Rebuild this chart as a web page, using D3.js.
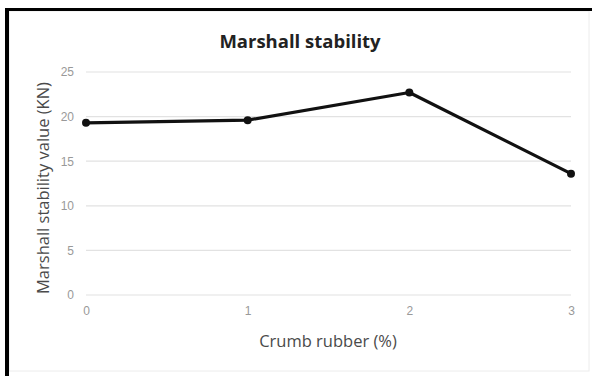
<!DOCTYPE html>
<html>
<head>
<meta charset="utf-8">
<script src="https://cdn.jsdelivr.net/npm/d3@7"></script>
<style>
  body { margin: 0; background: #fff; }
  svg { display: block; font-family: "Open Sans", "Noto Sans", sans-serif; }
</style>
</head>
<body>
<div id="chart"></div>
<script>
var rubber = [0, 1, 2, 3];
var stability = [19.3, 19.6, 22.7, 13.6];
var yTicks = [0, 5, 10, 15, 20, 25];

var width = 592;
var height = 376;

var svg = d3.select('#chart')
            .append('svg')
            .attr('width', width)
            .attr('height', height);

// frame of the screenshot
svg.append('rect').attr('x', 9).attr('y', 11).attr('width', 580).attr('height', 360)
   .attr('fill', '#fff').attr('stroke', '#ececec');
svg.append('rect').attr('x', 5).attr('y', 8).attr('width', 4).attr('height', 368).attr('fill', '#000');
svg.append('rect').attr('x', 5).attr('y', 8).attr('width', 587).attr('height', 3).attr('fill', '#000');

var x = d3.scaleLinear().domain([0, 3]).range([86, 571]);
var y = d3.scaleLinear().domain([0, 25]).range([295, 72]);

// gridlines
svg.selectAll('.grid')
   .data(yTicks)
   .enter()
   .append('line')
   .attr('x1', x(0))
   .attr('x2', x(3))
   .attr('y1', function(d){ return y(d) })
   .attr('y2', function(d){ return y(d) })
   .attr('stroke', '#e2e2e2')
   .attr('stroke-width', 1.2);

var yAxis = d3.axisLeft(y).tickValues(yTicks).tickSize(0).tickPadding(0);
var gy = svg.append('g').attr('transform', 'translate(74,0)').call(yAxis);
gy.select('.domain').remove();
gy.selectAll('text').attr('fill', '#999').attr('font-size', 12);

var xAxis = d3.axisBottom(x).tickValues(rubber).tickFormat(d3.format('d')).tickSize(0).tickPadding(0);
var gx = svg.append('g').attr('transform', 'translate(0,306)').call(xAxis);
gx.select('.domain').remove();
gx.selectAll('text').attr('fill', '#999').attr('font-size', 12);

var line = d3.line()
             .x(function(d, i){ return x(rubber[i]) })
             .y(function(d){ return y(d) });

svg.append('path')
   .datum(stability)
   .attr('d', line)
   .attr('fill', 'none')
   .attr('stroke', '#111')
   .attr('stroke-width', 3.2)
   .attr('stroke-linejoin', 'round');

svg.selectAll('.dot')
   .data(stability)
   .enter()
   .append('circle')
   .attr('cx', function(d, i){ return x(rubber[i]) })
   .attr('cy', function(d){ return y(d) })
   .attr('r', 4)
   .attr('fill', '#111');

svg.append('text')
   .attr('x', 300).attr('y', 48)
   .attr('text-anchor', 'middle')
   .attr('font-size', 18.5).attr('font-weight', 'bold')
   .attr('fill', '#222')
   .text('Marshall stability');

svg.append('text')
   .attr('x', 328).attr('y', 347)
   .attr('text-anchor', 'middle')
   .attr('font-size', 16.5)
   .attr('fill', '#4a4a4a')
   .text('Crumb rubber (%)');

svg.append('text')
   .attr('transform', 'translate(49,188) rotate(-90)')
   .attr('text-anchor', 'middle')
   .attr('font-size', 16.5)
   .attr('fill', '#4a4a4a')
   .text('Marshall stability value (KN)');
</script>
</body>
</html>
